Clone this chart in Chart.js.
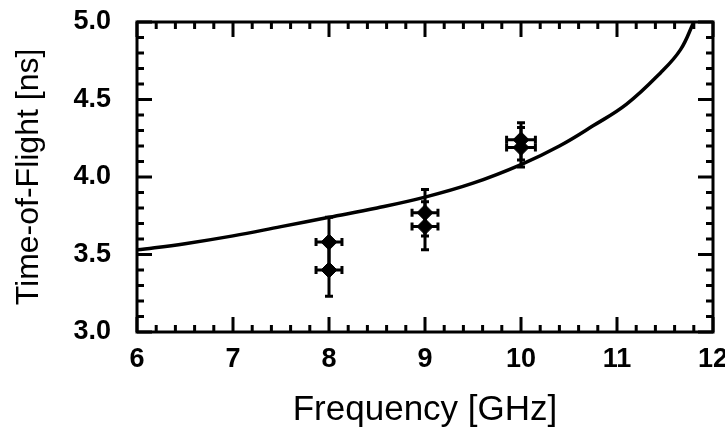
<!DOCTYPE html>
<html>
<head>
<meta charset="utf-8">
<script src="https://cdn.jsdelivr.net/npm/chart.js@4.4.1/dist/chart.umd.min.js"></script>
<style>
  html, body { margin: 0; padding: 0; background: #fff; }
  #wrap { width: 725px; height: 439px; }
</style>
</head>
<body>
<div id="wrap"><canvas id="tof"></canvas></div>
<script>
// model curve
const curveX = [6.0, 6.5, 7.0, 7.5, 8.0, 8.5, 9.0, 9.5, 10.0, 10.4, 10.75, 11.1, 11.45, 11.66, 11.8];
const curveY = [3.53, 3.57, 3.62, 3.68, 3.74, 3.80, 3.87, 3.96, 4.08, 4.20, 4.33, 4.47, 4.67, 4.82, 5.0];

// measured points with error bars
const ptX    = [8, 8, 9, 9, 10, 10];
const ptY    = [3.58, 3.40, 3.77, 3.68, 4.24, 4.19];
const ptYLo  = [3.42, 3.23, 3.62, 3.53, 4.11, 4.065];
const ptYHi  = [3.74, 3.57, 3.92, 3.84, 4.35, 4.32];
const ptXErr = [0.135, 0.135, 0.135, 0.135, 0.15, 0.15];

const xTicks = [6, 7, 8, 9, 10, 11, 12];
const yTicks = [3.0, 3.5, 4.0, 4.5, 5.0];
const xMinorStep = 0.2;
const yMinorStep = 0.1;

const errorBars = {
  id: 'errorBars',
  afterDatasetsDraw(chart) {
    const {ctx, scales: {x, y}} = chart;
    const cap = 4;
    ctx.save();
    ctx.strokeStyle = '#000';
    ctx.lineWidth = 3;
    ptX.forEach((v, i) => {
      const px = x.getPixelForValue(v);
      const py = y.getPixelForValue(ptY[i]);
      const y0 = y.getPixelForValue(ptYLo[i]);
      const y1 = y.getPixelForValue(ptYHi[i]);
      const x0 = x.getPixelForValue(v - ptXErr[i]);
      const x1 = x.getPixelForValue(v + ptXErr[i]);
      ctx.beginPath();
      ctx.moveTo(px, y0); ctx.lineTo(px, y1);
      ctx.moveTo(px - cap, y0); ctx.lineTo(px + cap, y0);
      ctx.moveTo(px - cap, y1); ctx.lineTo(px + cap, y1);
      ctx.moveTo(x0, py); ctx.lineTo(x1, py);
      ctx.moveTo(x0, py - cap); ctx.lineTo(x0, py + cap);
      ctx.moveTo(x1, py - cap); ctx.lineTo(x1, py + cap);
      ctx.stroke();
    });
    ctx.restore();
  }
};

// box round the plot with inward ticks on all four sides
const frame = {
  id: 'frame',
  afterDraw(chart) {
    const {ctx, chartArea: a, scales: {x, y}} = chart;
    const major = 15, minor = 7;
    ctx.save();
    ctx.strokeStyle = '#000';
    ctx.lineWidth = 3;
    ctx.beginPath();
    ctx.moveTo(a.left, a.top); ctx.lineTo(a.right, a.top);
    ctx.lineTo(a.right, a.bottom); ctx.lineTo(a.left, a.bottom);
    ctx.closePath();
    ctx.stroke();
    ctx.beginPath();
    for (let v = x.min; v <= x.max + 1e-9; v += xMinorStep) {
      const px = x.getPixelForValue(v);
      const len = xTicks.some(t => Math.abs(t - v) < 1e-6) ? major : minor;
      ctx.moveTo(px, a.bottom); ctx.lineTo(px, a.bottom - len);
      ctx.moveTo(px, a.top); ctx.lineTo(px, a.top + len);
    }
    for (let v = y.min; v <= y.max + 1e-9; v += yMinorStep) {
      const py = y.getPixelForValue(v);
      const len = yTicks.some(t => Math.abs(t - v) < 1e-6) ? major : minor;
      ctx.moveTo(a.left, py); ctx.lineTo(a.left + len, py);
      ctx.moveTo(a.right, py); ctx.lineTo(a.right - len, py);
    }
    ctx.stroke();
    ctx.restore();
  }
};

const tickFont = {family: 'Liberation Sans, Arial, sans-serif', size: 27, weight: 'bold'};
const xTitleFont = {family: 'Liberation Sans, Arial, sans-serif', size: 35};
const yTitleFont = {family: 'Liberation Sans, Arial, sans-serif', size: 32};

new Chart(document.getElementById('tof'), {
  type: 'scatter',
  data: {
    datasets: [{
      data: curveX.map((v, i) => ({x: v, y: curveY[i]})),
      showLine: true,
      pointRadius: 0,
      borderColor: '#000',
      borderWidth: 3.5,
      tension: 0.4
    }, {
      data: ptX.map((v, i) => ({x: v, y: ptY[i]})),
      pointStyle: 'rectRot',
      pointRadius: 8,
      backgroundColor: '#000',
      borderColor: '#000'
    }]
  },
  options: {
    responsive: true,
    maintainAspectRatio: false,
    animation: false,
    layout: {padding: {left: 0, right: 12, top: 22, bottom: 0}},
    plugins: {legend: {display: false}, tooltip: {enabled: false}},
    scales: {
      x: {
        min: 6, max: 12,
        afterBuildTicks: s => { s.ticks = xTicks.map(v => ({value: v})); },
        afterFit: s => { s.height = 107; s.paddingLeft = 0; s.paddingRight = 12; },
        grid: {display: false, drawTicks: false},
        border: {display: false},
        ticks: {color: '#000', font: tickFont, padding: 11, maxRotation: 0},
        title: {display: true, text: 'Frequency [GHz]', color: '#000', font: xTitleFont, padding: {top: 0, bottom: 8}}
      },
      y: {
        min: 3, max: 5,
        afterBuildTicks: s => { s.ticks = yTicks.map(v => ({value: v})); },
        afterFit: s => { s.width = 137; s.paddingTop = 0; s.paddingBottom = 0; },
        grid: {display: false, drawTicks: false},
        border: {display: false},
        ticks: {color: '#000', font: tickFont, padding: 26, callback: v => v.toFixed(1)},
        title: {display: true, text: 'Time-of-Flight [ns]', color: '#000', font: yTitleFont, padding: {top: 10, bottom: 0}}
      }
    }
  },
  plugins: [errorBars, frame]
});
</script>
</body>
</html>
